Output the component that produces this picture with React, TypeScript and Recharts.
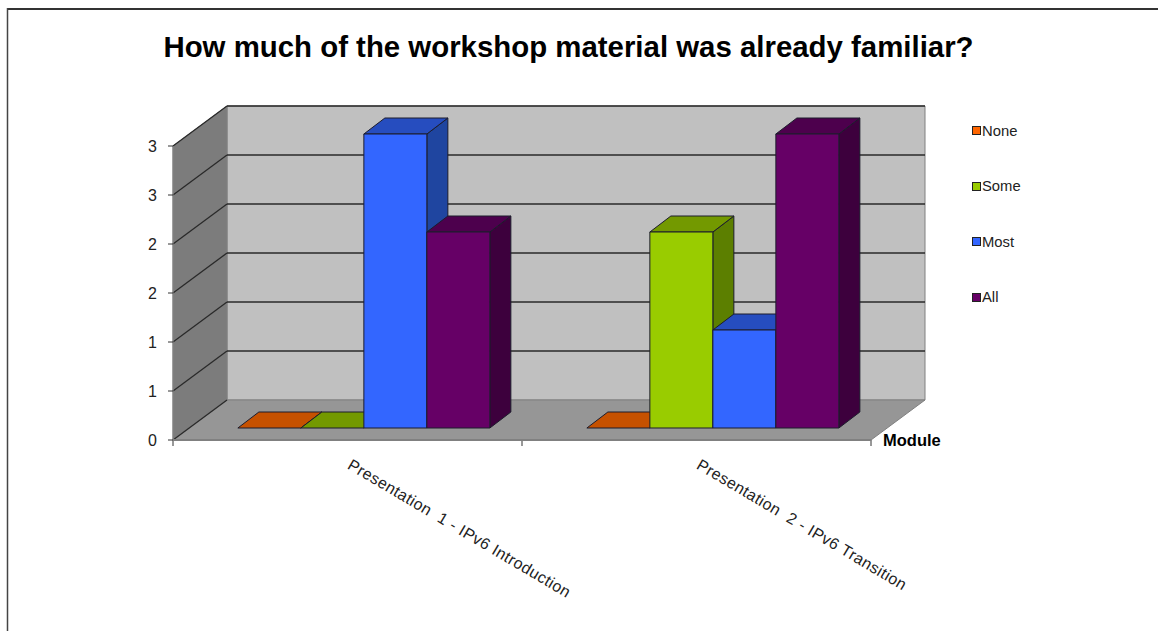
import { BarChart, Bar, XAxis, YAxis, Legend } from "recharts"

const modules = ["Presentation\u00a0\u00a01 - IPv6 Introduction", "Presentation\u00a0\u00a02 - IPv6 Transition"]
const none = [0, 0]
const some = [0, 2]
const most = [3, 1]
const all = [2, 3]
const yTicks = [0, 0.5, 1, 1.5, 2, 2.5, 3]

const data = modules.map((name, i) => ({ name, None: none[i], Some: some[i], Most: most[i], All: all[i] }))

const FONT = "'Liberation Sans', Arial, sans-serif"
const W = 1158
const H = 631
const LEFT = 173
const RIGHT = 871
const TOP = 146
const BOTTOM = 440
// depth of the fake 3d box
const DX = 54
const DY = -40
// depth of one bar and where it sits on the floor
const BAR_DX = 21
const BAR_DY = -16
const BAR_SHIFT_X = 16
const BAR_SHIFT_Y = -12

const pts = (...p: number[][]) => p.map((q) => q.join(",")).join(" ")

function Walls() {
    const yOf = (v: number) => BOTTOM - ((BOTTOM - TOP) * v) / 3
    const midX = (LEFT + RIGHT) / 2
    return (
        <g>
            <line x1={7.5} y1={9} x2={W} y2={9} stroke="#333" strokeWidth={2} />
            <line x1={7.5} y1={8} x2={7.5} y2={H} stroke="#444" strokeWidth={1.5} />
            <polygon points={pts([LEFT + DX, TOP + DY], [RIGHT + DX, TOP + DY], [RIGHT + DX, BOTTOM + DY], [LEFT + DX, BOTTOM + DY])} fill="#c0c0c0" stroke="#808080" />
            <polygon points={pts([LEFT, TOP], [LEFT + DX, TOP + DY], [LEFT + DX, BOTTOM + DY], [LEFT, BOTTOM])} fill="#7c7c7c" stroke="#808080" />
            <polygon points={pts([LEFT, BOTTOM], [LEFT + DX, BOTTOM + DY], [RIGHT + DX, BOTTOM + DY], [RIGHT, BOTTOM])} fill="#969696" stroke="#808080" />
            {yTicks.map((v) => {
                const y = yOf(v)
                return (
                    <g key={v} stroke="#2a2a2a" strokeWidth={1.3}>
                        <line x1={LEFT} y1={y} x2={LEFT + DX} y2={y + DY} />
                        {v > 0 && <line x1={LEFT + DX} y1={y + DY} x2={RIGHT + DX} y2={y + DY} />}
                    </g>
                )
            })}
            {[LEFT, midX, RIGHT].map((x) => (
                <line key={x} x1={x} y1={BOTTOM} x2={x} y2={BOTTOM + 6} stroke="#333" />
            ))}
            <text x={568.5} y={57} textAnchor="middle" fontFamily={FONT} fontWeight="bold" fontSize={29.4} fill="#000">
                How much of the workshop material was already familiar?
            </text>
            <text x={883} y={446} fontFamily={FONT} fontWeight="bold" fontSize={16.5} fill="#000">
                Module
            </text>
        </g>
    )
}

function Bar3D(props: any) {
    const { x, y, width, height, fill, topFill, sideFill } = props
    const x0 = x + BAR_SHIFT_X
    const y0 = y + BAR_SHIFT_Y
    const x1 = x0 + width
    const y1 = y0 + height
    const edge = { stroke: "#1c1c2c", strokeWidth: 1, strokeLinejoin: "round" as const }
    return (
        <g>
            <polygon points={pts([x1, y0], [x1 + BAR_DX, y0 + BAR_DY], [x1 + BAR_DX, y1 + BAR_DY], [x1, y1])} fill={sideFill} {...edge} />
            <polygon points={pts([x0, y0], [x0 + BAR_DX, y0 + BAR_DY], [x1 + BAR_DX, y0 + BAR_DY], [x1, y0])} fill={topFill} {...edge} />
            <rect x={x0} y={y0} width={width} height={height} fill={fill} {...edge} />
        </g>
    )
}

function CategoryTick({ x, y, payload }: any) {
    const tx = x - 1
    const ty = y + 20
    return (
        <text
            x={tx}
            y={ty}
            transform={`rotate(30.6 ${tx} ${ty})`}
            fontFamily={FONT}
            fontSize={16}
            letterSpacing={0.4}
            fill="#222"
        >
            {payload.value}
        </text>
    )
}

function ValueTick({ x, y, payload }: any) {
    return (
        <text x={x} y={y + 6} textAnchor="end" fontFamily={FONT} fontSize={16} fill="#222">
            {Math.round(payload.value)}
        </text>
    )
}

function LegendList({ payload }: any) {
    return (
        <div style={{ fontFamily: FONT, fontSize: 14.8, color: "#222" }}>
            {(payload || []).map((p: any) => (
                <div key={p.value} style={{ height: 55.5, display: "flex", alignItems: "center" }}>
                    <span style={{ width: 7, height: 7, background: p.color, border: "1px solid #222", display: "inline-block", marginRight: 1 }} />
                    {p.value}
                </div>
            ))}
        </div>
    )
}

export default function App() {
    return (
        <div>
            <style>{"body{margin:0;overflow:hidden}"}</style>
            <BarChart
                width={W}
                height={H}
                data={data}
                barCategoryGap="14%"
                barGap={0}
                margin={{ left: LEFT - 40, right: W - RIGHT, top: TOP, bottom: H - BOTTOM - 60 }}
            >
                <Walls />
                <XAxis
                    dataKey="name"
                    height={60}
                    interval={0}
                    tickLine={false}
                    axisLine={{ stroke: "#808080", strokeWidth: 2 }}
                    tick={<CategoryTick />}
                />
                <YAxis
                    width={40}
                    domain={[0, 3]}
                    ticks={yTicks}
                    interval={0}
                    tick={<ValueTick />}
                    tickLine={{ stroke: "#333" }}
                    tickSize={5}
                    tickMargin={11}
                    axisLine={{ stroke: "#808080" }}
                />
                <Legend
                    layout="vertical"
                    align="center"
                    verticalAlign="middle"
                    itemSorter={null}
                    content={<LegendList />}
                    wrapperStyle={{ left: 972, top: 103, width: 80, height: 222, right: "auto", bottom: "auto" }}
                />
                <Bar dataKey="None" name="None" fill="#FF6600" isAnimationActive={false} shape={<Bar3D topFill="#C65100" sideFill="#A04000" />} />
                <Bar dataKey="Some" name="Some" fill="#99CC00" isAnimationActive={false} shape={<Bar3D topFill="#739900" sideFill="#5C7F00" />} />
                <Bar dataKey="Most" name="Most" fill="#3366FF" isAnimationActive={false} shape={<Bar3D topFill="#264DBF" sideFill="#1F45A0" />} />
                <Bar dataKey="All" name="All" fill="#660066" isAnimationActive={false} shape={<Bar3D topFill="#4D004D" sideFill="#3D003D" />} />
            </BarChart>
        </div>
    )
}
